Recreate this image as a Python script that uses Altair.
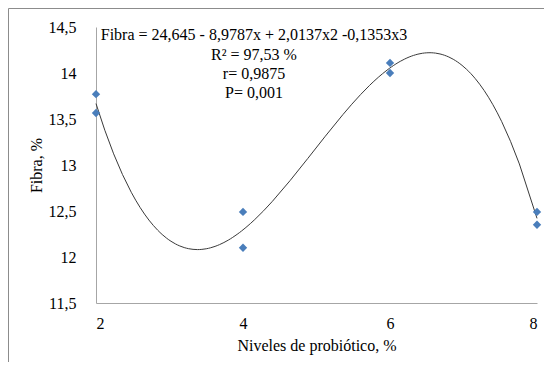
import altair as alt
import pandas as pd

niveles = [2, 2, 4, 4, 6, 6, 8, 8]
fibra = [13.77, 13.565, 12.49, 12.10, 14.11, 14.00, 12.49, 12.35]
y_ticks = [11.5, 12, 12.5, 13, 13.5, 14, 14.5]
x_ticks = [2, 4, 6, 8]
anotacion = ["Fibra = 24,645 - 8,9787x + 2,0137x2 -0,1353x3", "R² = 97,53 %", "r= 0,9875", "P= 0,001"]
anot_y = [14.413, 14.196, 13.989, 13.783]

df = pd.DataFrame({"x": niveles, "y": fibra})
df_txt = pd.DataFrame({"t": anotacion, "y": anot_y})

FONT = "'Times New Roman', 'Liberation Serif', serif"
label_expr = "replace(format(datum.value, '.1~f'), '.', ',')"

xs = alt.X("x:Q", scale=alt.Scale(domain=[2, 8], nice=False),
           axis=alt.Axis(values=x_ticks, title="Niveles de probiótico, %", ticks=False,
                         labelPadding=12, titlePadding=6, grid=False,
                         labelFont=FONT, titleFont=FONT, labelFontSize=16, titleFontSize=16,
                         labelColor="#000000", titleColor="#000000", titleFontWeight="normal",
                         domainColor="#a6a6a6"))
ys = alt.Y("y:Q", scale=alt.Scale(domain=[11.5, 14.5], nice=False, zero=False),
           axis=alt.Axis(values=y_ticks, title="Fibra, %", ticks=False, labelExpr=label_expr,
                         labelPadding=20, titlePadding=4, grid=False,
                         labelFont=FONT, titleFont=FONT, labelFontSize=16, titleFontSize=16,
                         labelColor="#000000", titleColor="#000000", titleFontWeight="normal",
                         domainColor="#a6a6a6"))

frame = alt.Chart(pd.DataFrame({"a": [0]})).mark_rect(
    fill="transparent", stroke="#8c8c8c", strokeWidth=1, clip=False
).encode(x=alt.value(-87.5), x2=alt.value(600), y=alt.value(-18.5), y2=alt.value(500))

curve = alt.Chart(df).transform_regression(
    "x", "y", method="poly", order=3, extent=[2, 8]
).mark_line(color="#3a3a3a", strokeWidth=1).encode(x=xs, y=ys)

points = alt.Chart(df).mark_point(
    shape="diamond", filled=True, color="#4a7ebb", size=70, opacity=1
).encode(x=xs, y=ys)

text = alt.Chart(df_txt).mark_text(
    font=FONT, fontSize=16, color="#000000", baseline="middle", align="center"
).encode(x=alt.value(158), y=alt.Y("y:Q", scale=alt.Scale(domain=[11.5, 14.5])), text="t:N")

chart = alt.layer(frame, curve, points, text).properties(
    width=441, height=276,
    padding={"left": 88, "top": 19, "right": 7, "bottom": 59},
    autosize=alt.AutoSizeParams(type="none"),
    background="white",
).configure_view(strokeWidth=0)

chart.save("out.html", embed_options={"renderer": "svg", "actions": False})
